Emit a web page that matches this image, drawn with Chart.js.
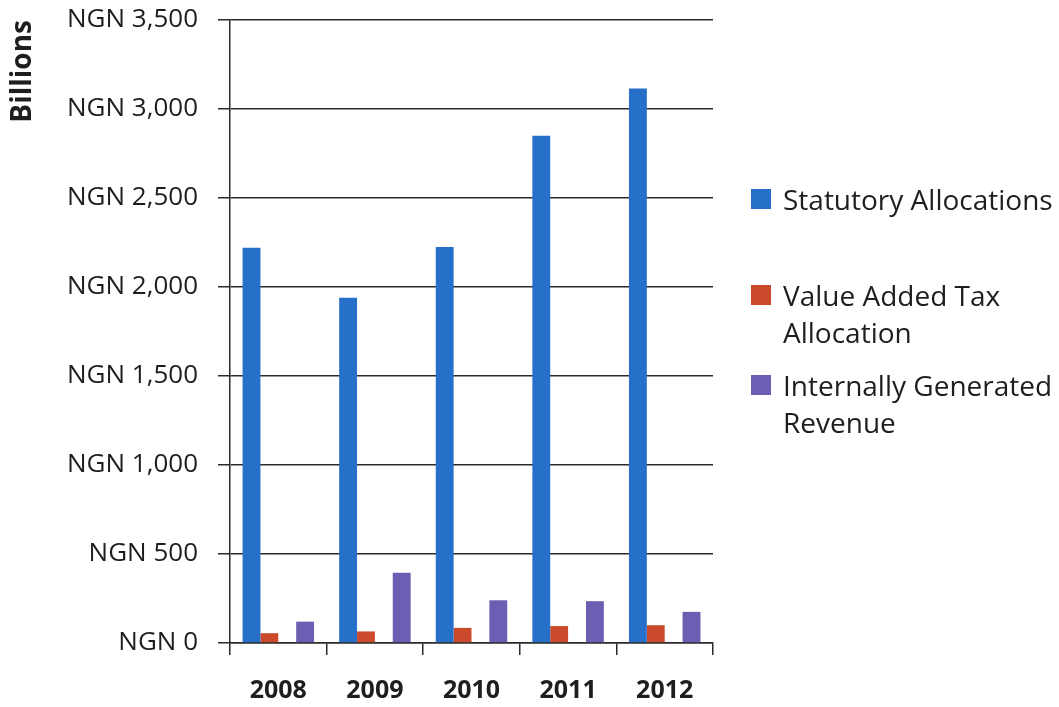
<!DOCTYPE html>
<html><head><meta charset="utf-8">
<script src="https://cdn.jsdelivr.net/npm/chart.js@4"></script>
<style>
html,body{margin:0;padding:0;background:#fff;}
#wrap{position:relative;width:1059px;height:707px;overflow:hidden;}
canvas{position:absolute;left:0;top:0;}
#legend{position:absolute;left:750px;top:0;font-family:"Open Sans",sans-serif;font-size:28px;color:#1e1e1e;line-height:37px;}
.item{position:absolute;left:0;width:310px;white-space:nowrap;}
.sw{position:absolute;left:1px;top:8px;width:20px;height:20px;}
.txt{position:absolute;left:33px;top:0;}
.item:nth-child(1){top:181px;}
.item:nth-child(2){top:277px;}
.item:nth-child(3){top:367px;}
</style></head>
<body>
<div id="wrap"><canvas id="c" width="1059" height="707"></canvas><div id="legend"></div></div>
<script>
const categories = ['2008', '2009', '2010', '2011', '2012'];
const statutoryAllocations = [2220, 1940, 2225, 2850, 3115];
const valueAddedTax = [55, 65, 85, 95, 100];
const internallyGenerated = [120, 395, 240, 235, 175];
const emptySlot = [null, null, null, null, null];
const yTickLabels = ['NGN 0', 'NGN 500', 'NGN 1,000', 'NGN 1,500', 'NGN 2,000', 'NGN 2,500', 'NGN 3,000', 'NGN 3,500'];
const seriesNames = ['Statutory Allocations', 'Value Added Tax Allocation', 'Internally Generated Revenue'];
const legendLines = [['Statutory Allocations'], ['Value Added Tax', 'Allocation'], ['Internally Generated', 'Revenue']];
const colors = ['#2770c9', '#cc4a2c', '#6b5fb3'];

const FONT = '"Open Sans", sans-serif';
const dark = '#2b2b2b';
const textColor = '#1e1e1e';

new Chart(document.getElementById('c'), {
  type: 'bar',
  data: {
    labels: categories,
    datasets: [
      { label: seriesNames[0], data: statutoryAllocations, backgroundColor: colors[0] },
      { label: seriesNames[1], data: valueAddedTax, backgroundColor: colors[1] },
      { label: '', data: emptySlot, backgroundColor: 'rgba(0,0,0,0)' },
      { label: seriesNames[2], data: internallyGenerated, backgroundColor: colors[2] }
    ]
  },
  options: {
    responsive: false,
    animation: false,
    devicePixelRatio: 1,
    layout: { padding: { top: 20, right: 346, bottom: 0, left: 6 } },
    datasets: { bar: { categoryPercentage: 0.74, barPercentage: 1.0 } },
    plugins: { legend: { display: false }, tooltip: { enabled: false } },
    scales: {
      x: {
        grid: { offset: true, drawOnChartArea: false, drawTicks: true, tickLength: 12, color: dark, lineWidth: 1.5 },
        border: { color: dark, width: 1.5 },
        ticks: { font: { family: FONT, size: 25, weight: 'bold' }, color: textColor, padding: 21 },
        afterFit(s) { s.height = 64; }
      },
      y: {
        min: 0, max: 3500,
        ticks: { stepSize: 500, callback: (v, i) => yTickLabels[i], font: { family: FONT, size: 26 }, color: textColor, padding: 20 },
        grid: { color: dark, lineWidth: 1.5, tickLength: 12 },
        border: { color: dark, width: 1.5 },
        title: { display: true, text: 'Billions', align: 'end', font: { family: FONT, size: 28, weight: 'bold' }, color: textColor, padding: 0 },
        afterFit(s) { s.width = 224; s.paddingTop = 0; s.paddingBottom = 0; }
      }
    }
  }
});

const legend = document.getElementById('legend');
legendLines.forEach((lines, i) => {
  const item = document.createElement('div');
  item.className = 'item';
  const sw = document.createElement('div');
  sw.className = 'sw';
  sw.style.background = colors[i];
  const txt = document.createElement('div');
  txt.className = 'txt';
  txt.innerHTML = lines.join('<br>');
  item.appendChild(sw);
  item.appendChild(txt);
  legend.appendChild(item);
});
</script>
</body></html>
